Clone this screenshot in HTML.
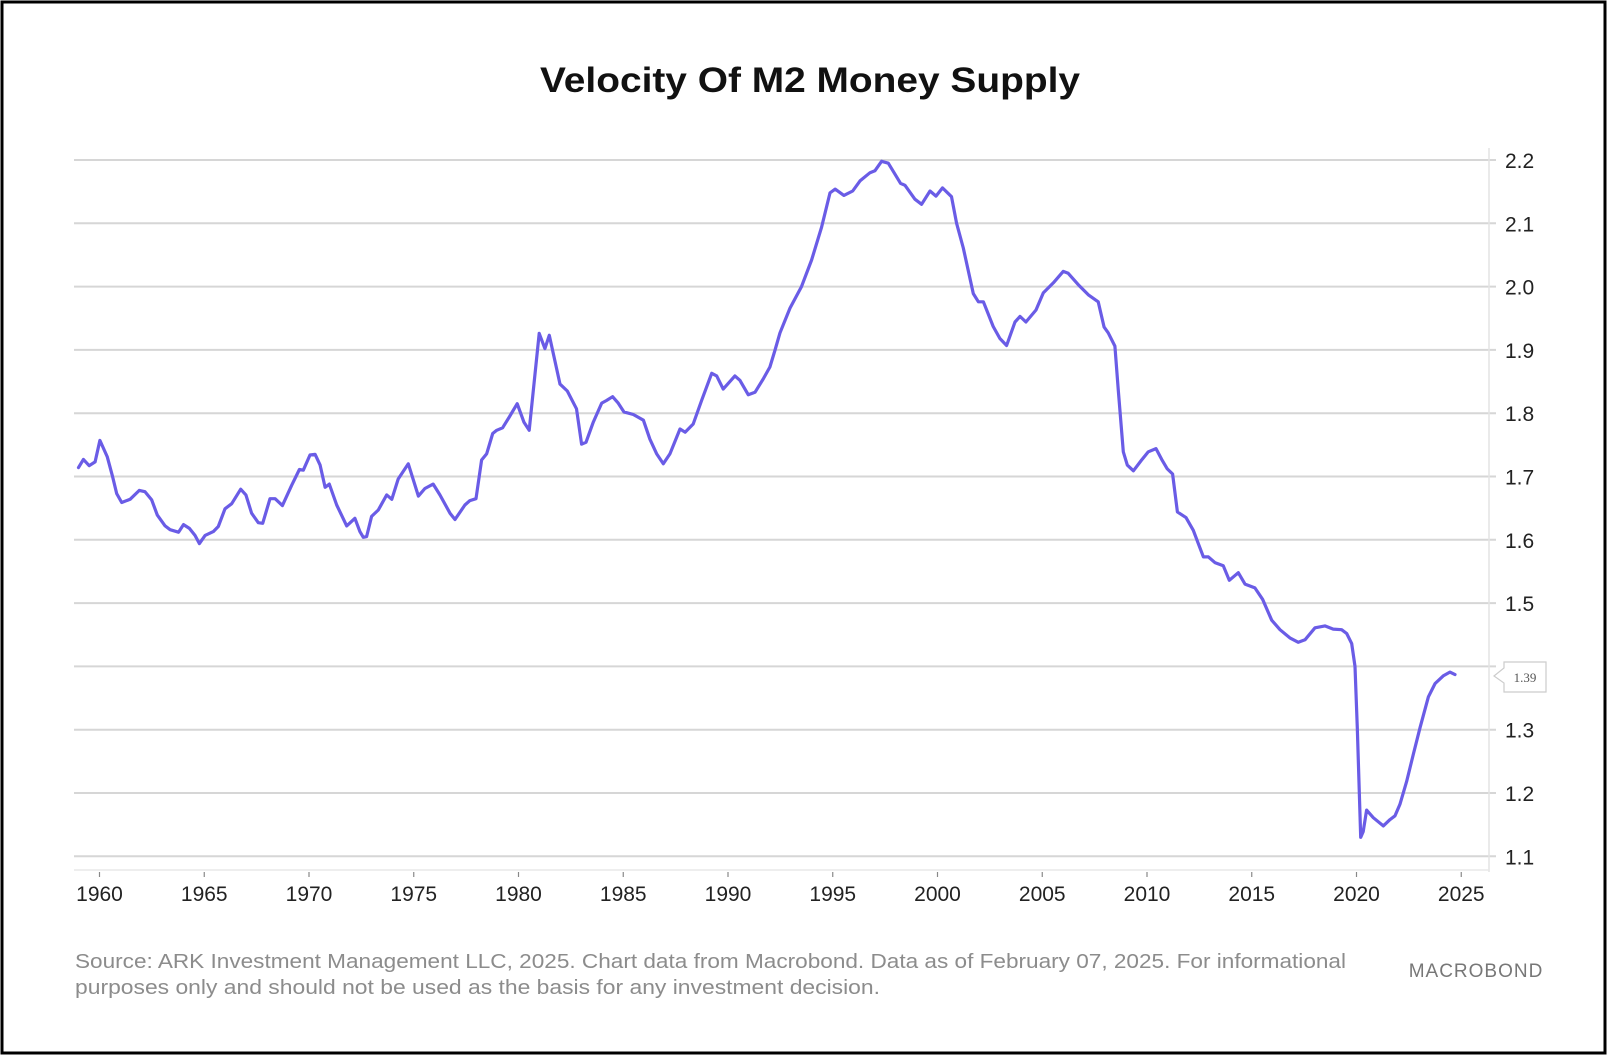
<!DOCTYPE html>
<html><head><meta charset="utf-8"><style>
html,body{margin:0;padding:0;background:#fff;}
svg{display:block;font-family:"Liberation Sans",sans-serif;}
</style></head><body>
<svg id="chart" width="1608" height="1056" viewBox="0 0 1608 1056">
<rect x="2" y="2" width="1603" height="1051" fill="#fff" stroke="#000" stroke-width="3"/>
<text x="810" y="92" text-anchor="middle" font-size="35" font-weight="bold" fill="#111" textLength="540" lengthAdjust="spacingAndGlyphs">Velocity Of M2 Money Supply</text>
<g id="grid"></g>
<g id="xaxis"></g>
<g id="yaxis"></g>
<g id="series"></g>
<g>
<path d="M1504,668 L1504,662 L1546,662 L1546,692 L1504,692 L1504,683 L1494,676 Z" fill="#fff" stroke="#ccc" stroke-width="1.2"/>
<text x="1525" y="682" text-anchor="middle" font-size="13" fill="#555" font-family="Liberation Serif,serif">1.39</text>
</g>
<text x="75" y="968" font-size="20.5" fill="#8c8c8c" textLength="1271" lengthAdjust="spacingAndGlyphs">Source: ARK Investment Management LLC, 2025. Chart data from Macrobond. Data as of February 07, 2025. For informational</text>
<text x="75" y="994" font-size="20.5" fill="#8c8c8c" textLength="805" lengthAdjust="spacingAndGlyphs">purposes only and should not be used as the basis for any investment decision.</text>
<text x="1476" y="977" text-anchor="middle" font-size="19" fill="#777" letter-spacing="1">MACROBOND</text>
</svg>
<script>
const years=[1959.0,1959.23,1959.51,1959.79,1960.02,1960.37,1960.63,1960.82,1961.06,1961.46,1961.9,1962.17,1962.49,1962.76,1963.13,1963.37,1963.77,1964.01,1964.29,1964.56,1964.77,1965.04,1965.43,1965.67,1965.99,1966.31,1966.74,1966.99,1967.26,1967.58,1967.79,1968.14,1968.38,1968.73,1969.17,1969.54,1969.73,1970.05,1970.29,1970.53,1970.77,1970.97,1971.32,1971.8,1972.19,1972.43,1972.59,1972.75,1972.99,1973.31,1973.71,1973.95,1974.26,1974.74,1975.22,1975.53,1975.93,1976.25,1976.73,1976.97,1977.44,1977.68,1977.97,1978.24,1978.48,1978.77,1978.96,1979.24,1979.56,1979.94,1980.26,1980.51,1980.99,1981.26,1981.47,1981.98,1982.33,1982.77,1983.01,1983.22,1983.57,1983.97,1984.2,1984.49,1984.76,1985.03,1985.48,1985.96,1986.27,1986.59,1986.91,1987.23,1987.71,1987.95,1988.34,1988.74,1989.22,1989.46,1989.77,1990.33,1990.57,1990.97,1991.29,1991.68,1992.0,1992.24,1992.48,1992.96,1993.51,1993.99,1994.47,1994.87,1995.11,1995.53,1995.95,1996.3,1996.78,1997.01,1997.33,1997.65,1998.24,1998.45,1998.92,1999.24,1999.64,1999.93,2000.24,2000.67,2000.91,2001.23,2001.71,2001.95,2002.19,2002.66,2002.98,2003.3,2003.7,2003.94,2004.22,2004.7,2005.05,2005.53,2006.0,2006.24,2006.72,2007.2,2007.67,2007.95,2008.15,2008.47,2008.63,2008.87,2009.06,2009.35,2009.74,2010.06,2010.43,2010.7,2010.97,2011.22,2011.45,2011.86,2012.21,2012.45,2012.69,2012.93,2013.24,2013.64,2013.93,2014.36,2014.68,2015.15,2015.52,2015.95,2016.35,2016.82,2017.22,2017.54,2018.02,2018.49,2018.89,2019.29,2019.53,2019.77,2019.93,2020.04,2020.2,2020.32,2020.48,2020.8,2021.28,2021.6,2021.84,2022.07,2022.39,2022.71,2023.03,2023.43,2023.75,2024.14,2024.46,2024.7];
const velocity=[1.714,1.727,1.717,1.723,1.757,1.731,1.699,1.673,1.659,1.664,1.678,1.676,1.663,1.639,1.622,1.616,1.612,1.624,1.618,1.607,1.594,1.607,1.613,1.621,1.649,1.657,1.68,1.671,1.642,1.627,1.626,1.665,1.665,1.654,1.686,1.711,1.71,1.734,1.735,1.718,1.683,1.688,1.655,1.622,1.634,1.613,1.604,1.605,1.637,1.647,1.671,1.664,1.696,1.72,1.669,1.681,1.688,1.671,1.642,1.632,1.655,1.662,1.665,1.726,1.736,1.768,1.773,1.777,1.794,1.815,1.786,1.773,1.926,1.902,1.923,1.846,1.835,1.807,1.751,1.754,1.786,1.816,1.82,1.826,1.816,1.802,1.798,1.789,1.759,1.736,1.72,1.736,1.775,1.77,1.783,1.82,1.863,1.859,1.838,1.859,1.852,1.829,1.833,1.854,1.873,1.899,1.927,1.966,2.0,2.042,2.094,2.148,2.154,2.144,2.151,2.167,2.18,2.183,2.198,2.195,2.163,2.16,2.138,2.13,2.151,2.143,2.156,2.142,2.1,2.061,1.989,1.976,1.976,1.937,1.918,1.907,1.944,1.953,1.944,1.963,1.99,2.006,2.024,2.021,2.003,1.987,1.976,1.936,1.927,1.906,1.836,1.739,1.718,1.709,1.726,1.739,1.744,1.727,1.712,1.704,1.644,1.635,1.615,1.594,1.573,1.573,1.564,1.559,1.536,1.548,1.53,1.524,1.506,1.473,1.458,1.445,1.438,1.442,1.461,1.464,1.459,1.458,1.452,1.436,1.4,1.303,1.13,1.139,1.173,1.161,1.148,1.158,1.164,1.182,1.218,1.261,1.303,1.352,1.373,1.385,1.391,1.387];
const yTicks=[1.1,1.2,1.3,1.4,1.5,1.6,1.7,1.8,1.9,2.0,2.1,2.2];
const xTicks=[1960,1965,1970,1975,1980,1985,1990,1995,2000,2005,2010,2015,2020,2025];

const NS="http://www.w3.org/2000/svg";
function xs(yr){return 99.5+(yr-1960)*20.95;}
function ys(v){return 160+(2.2-v)*633;}
function mk(tag,attrs,parent){const e=document.createElementNS(NS,tag);for(const k in attrs)e.setAttribute(k,attrs[k]);parent.appendChild(e);return e;}
const grid=document.getElementById('grid'),xa=document.getElementById('xaxis'),ya=document.getElementById('yaxis'),se=document.getElementById('series');
yTicks.forEach(t=>{
  const l=mk('line',{x1:74,x2:1496,y1:ys(t),y2:ys(t),stroke:'#d6d6d6','stroke-width':2},grid);
  
  
  if(Math.abs(t-1.4)>0.001){
    const tx=mk('text',{x:1505,y:ys(t)+8,'font-size':21,fill:'#222'},ya);
    tx.textContent=t.toFixed(1);
    
    
  }
});
const vl=mk('line',{x1:1489,x2:1489,y1:148,y2:872,stroke:'#e4e4e4','stroke-width':1.5},grid);


const bl=mk('line',{x1:74,x2:1489,y1:870,y2:870,stroke:'#e8e8e8','stroke-width':1.5},xa);


xTicks.forEach(t=>{
  const tk=mk('line',{x1:xs(t),x2:xs(t),y1:872,y2:877,stroke:'#888','stroke-width':1.2},xa);
  
  
  const tx=mk('text',{x:xs(t),y:901,'text-anchor':'middle','font-size':21,fill:'#222'},xa);
  tx.textContent=t;
  
  
});
let d='';
years.forEach((yr,i)=>{d+=(i?'L':'M')+xs(yr).toFixed(1)+','+ys(velocity[i]).toFixed(1);});
const p=mk('path',{d:d,fill:'none',stroke:'#6a5ce6','stroke-width':3.2,'stroke-linejoin':'round','stroke-linecap':'round'},se);


</script>
</body></html>
